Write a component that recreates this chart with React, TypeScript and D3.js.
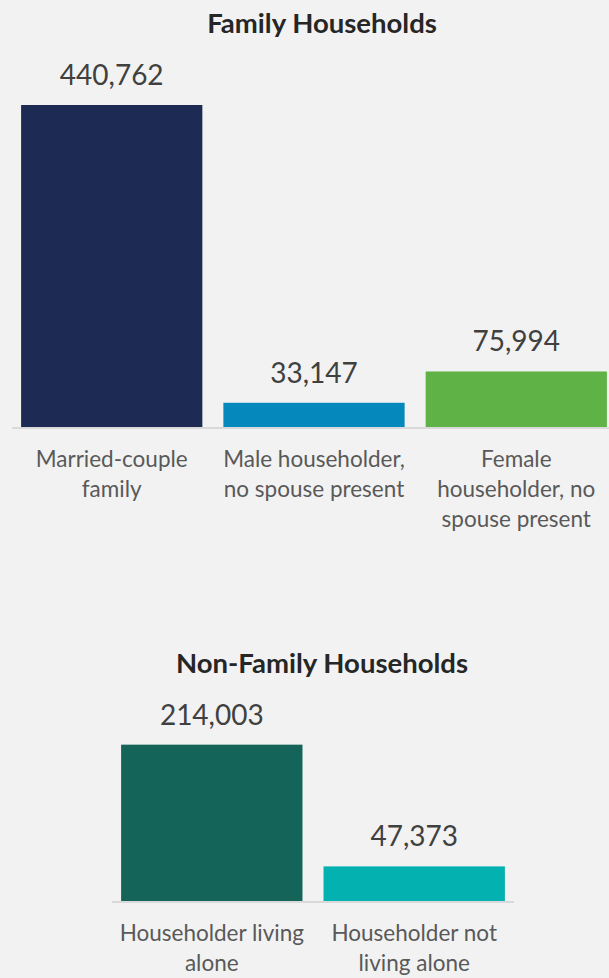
import React, { useEffect, useRef } from "react";
import * as d3 from "d3";

// Family households
const familyCategories = ["Married-couple family", "Male householder, no spouse present", "Female householder, no spouse present"];
const familyLabelLines = [["Married-couple", "family"], ["Male householder,", "no spouse present"], ["Female", "householder, no", "spouse present"]];
const familyValues = [440762, 33147, 75994];
const familyColors = ["#1c2a54", "#0588bb", "#5eb246"];

// Non-family households
const nonFamilyCategories = ["Householder living alone", "Householder not living alone"];
const nonFamilyLabelLines = [["Householder living", "alone"], ["Householder not", "living alone"]];
const nonFamilyValues = [214003, 47373];
const nonFamilyColors = ["#14645a", "#02b1b0"];

const W = 609;
const H = 978;
const FONT = "Lato, 'Noto Sans', sans-serif";

const App: React.FC = () => {
    const svgRef = useRef<SVGSVGElement | null>(null);

    useEffect(() => {
        if (!svgRef.current) return;
        const svg = d3.select(svgRef.current);
        svg.selectAll("*").remove();

        svg.append("rect").attr("width", W).attr("height", H).attr("fill", "#f2f2f2");

        // shared value scale for both panels
        const y = d3.scaleLinear().domain([0, d3.max(familyValues) as number]).range([0, 322]);

        const drawPanel = (
            title: string,
            titleY: number,
            baseY: number,
            range: [number, number],
            cats: string[],
            lines: string[][],
            values: number[],
            colors: string[]
        ) => {
            const x = d3.scaleBand<string>()
                .domain(cats)
                .range(range)
                .paddingInner(0.104)
                .paddingOuter(0.045);

            const g = svg.append("g");

            g.append("text")
                .attr("x", 322)
                .attr("y", titleY)
                .attr("text-anchor", "middle")
                .attr("font-family", FONT)
                .attr("font-weight", 700)
                .attr("font-size", 27.5)
                .attr("fill", "#262626")
                .text(title);

            g.selectAll("rect.bar")
                .data(values)
                .enter()
                .append("rect")
                .attr("class", "bar")
                .attr("x", (_d, i) => x(cats[i]) as number)
                .attr("y", (d) => baseY - y(d))
                .attr("width", x.bandwidth())
                .attr("height", (d) => y(d))
                .attr("fill", (_d, i) => colors[i]);

            // baseline
            g.append("line")
                .attr("x1", range[0])
                .attr("x2", range[1])
                .attr("y1", baseY + 1)
                .attr("y2", baseY + 1)
                .attr("stroke", "#d9d9d9")
                .attr("stroke-width", 2);

            // value labels
            g.selectAll("text.value")
                .data(values)
                .enter()
                .append("text")
                .attr("class", "value")
                .attr("x", (_d, i) => (x(cats[i]) as number) + x.bandwidth() / 2)
                .attr("y", (d) => baseY - y(d) - 20)
                .attr("text-anchor", "middle")
                .attr("font-family", FONT)
                .attr("font-size", 28)
                .attr("fill", "#404040")
                .text((d) => d3.format(",")(d));

            // category labels
            cats.forEach((c, i) => {
                const t = g.append("text")
                    .attr("x", (x(c) as number) + x.bandwidth() / 2)
                    .attr("y", baseY + 40)
                    .attr("text-anchor", "middle")
                    .attr("font-family", FONT)
                    .attr("font-size", 22.5)
                    .attr("fill", "#595959");
                lines[i].forEach((ln, j) => {
                    t.append("tspan")
                        .attr("x", (x(c) as number) + x.bandwidth() / 2)
                        .attr("dy", j === 0 ? 0 : 30)
                        .text(ln);
                });
            });
        };

        drawPanel("Family Households", 33, 427, [12, 616], familyCategories, familyLabelLines, familyValues, familyColors);
        drawPanel("Non-Family Households", 673, 901, [112, 514], nonFamilyCategories, nonFamilyLabelLines, nonFamilyValues, nonFamilyColors);
    }, []);

    return (
        <div style={{ position: "absolute", left: 0, top: 0, width: W, height: H }}>
            <svg ref={svgRef} width={W} height={H} style={{ display: "block" }}></svg>
        </div>
    );
};

export default App;
